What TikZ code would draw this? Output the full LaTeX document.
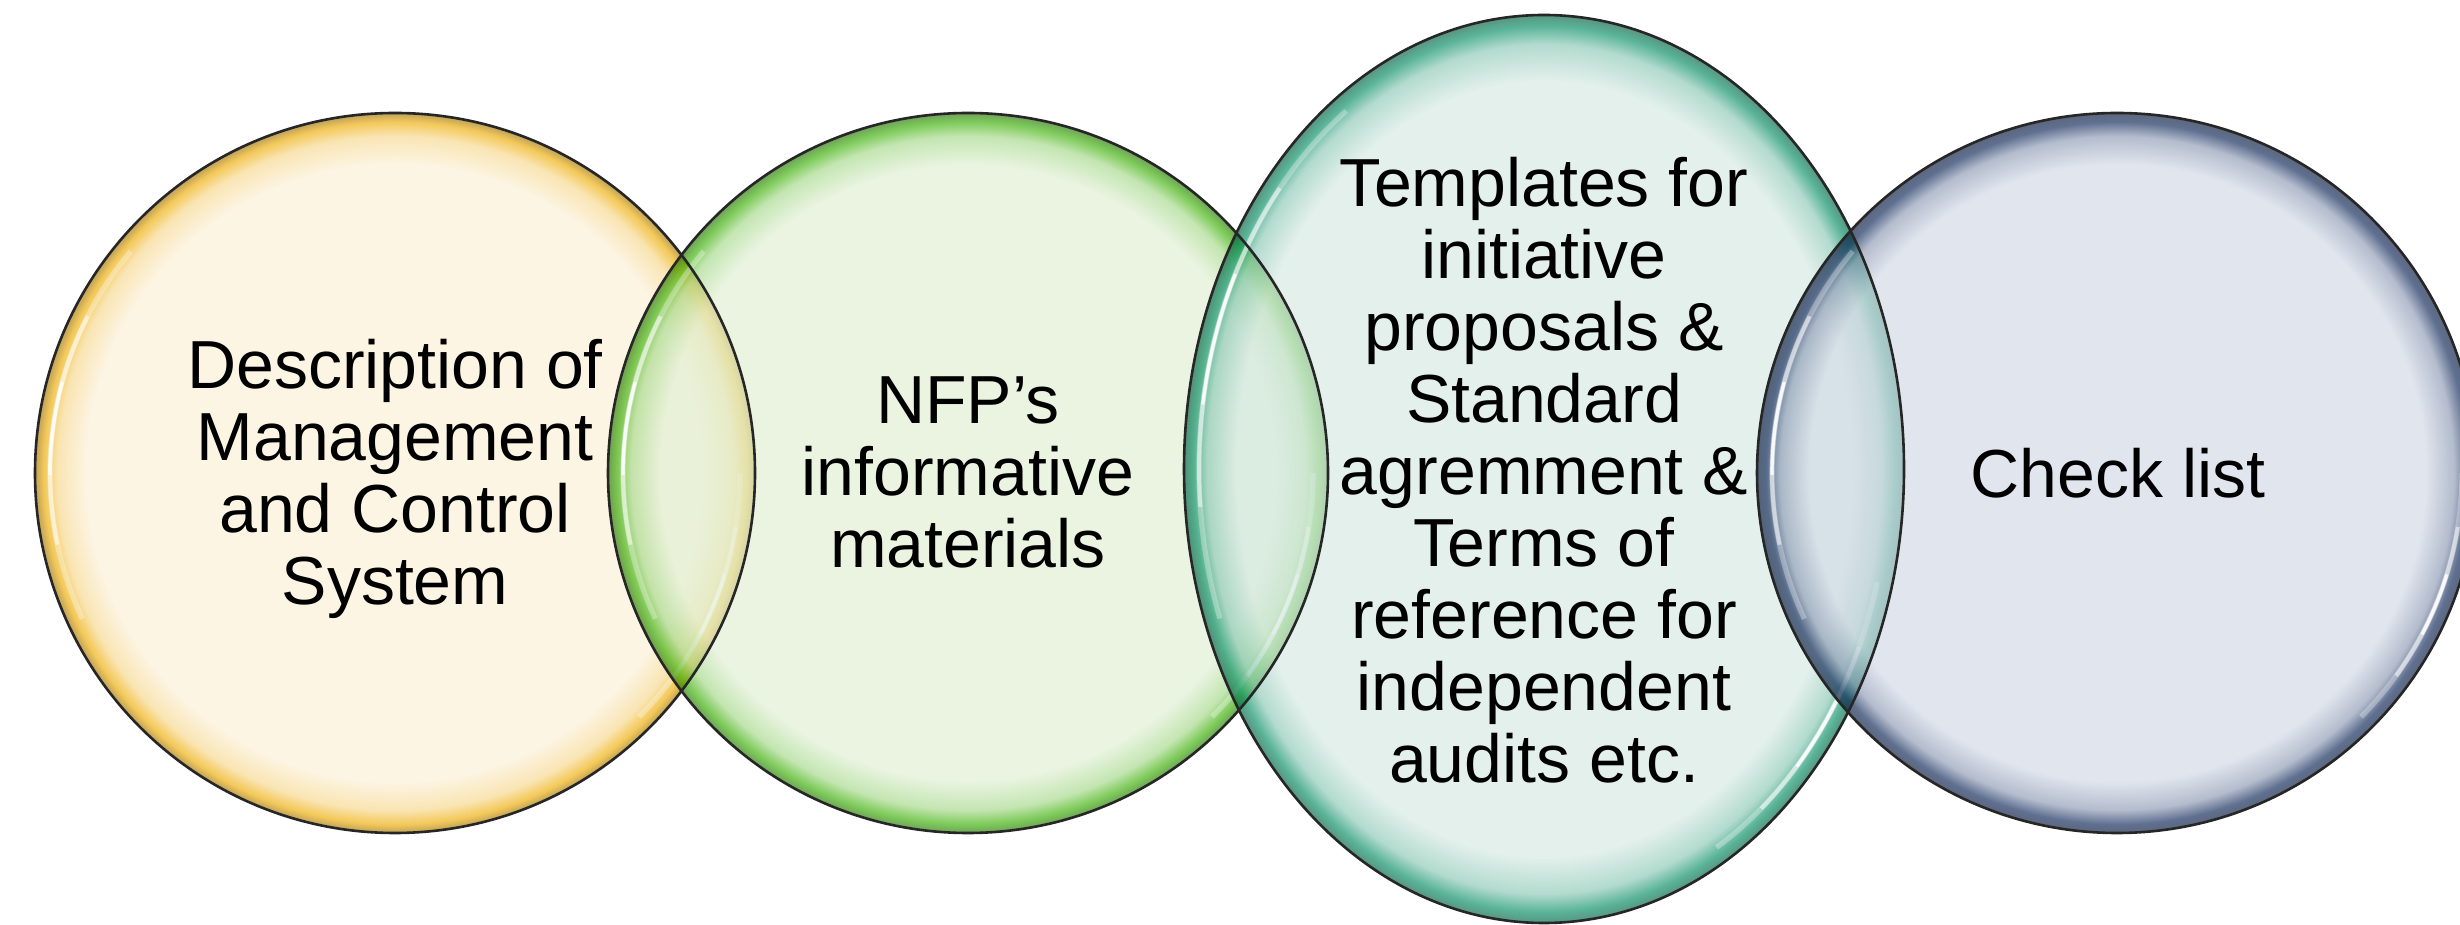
\documentclass[tikz,border=0pt]{standalone}
\usepackage{fontspec}
\setmainfont{Liberation Sans}
\definecolor{yfill}{RGB}{252,240,215}
\definecolor{yrim}{RGB}{238,172,0}
\definecolor{gfill}{RGB}{223,239,210}
\definecolor{grim}{RGB}{55,175,0}
\definecolor{tfill}{RGB}{212,232,226}
\definecolor{trim}{RGB}{0,140,95}
\definecolor{nfill}{RGB}{210,217,230}
\definecolor{nrim}{RGB}{10,35,85}
\newcommand\mkshade[3]{%
  \colorlet{#1mid}{#3!35!#2}\colorlet{#1edge}{#3!65!black}%
  \pgfdeclareradialshading{#1}{\pgfpointorigin}{color(0bp)=(#2); color(21.4bp)=(#2); color(23.4bp)=(#1mid); color(24.4bp)=(#3); color(25bp)=(#1edge); color(50bp)=(#1edge)}}
\mkshade{yshade}{yfill}{yrim}
\mkshade{gshade}{gfill}{grim}
\mkshade{tshade}{tfill}{trim}
\mkshade{nshade}{nfill}{nrim}
% highlight arc: cx, cy, rx, ry, a1, a2
\newcommand\hlarc[6]{%
  \pgfmathsetmacro\hla{#5+(#6-#5)*0.2}\pgfmathsetmacro\hlb{#6-(#6-#5)*0.2}%
  \pgfmathsetmacro\hlc{#5+(#6-#5)*0.38}\pgfmathsetmacro\hld{#6-(#6-#5)*0.38}%
  \draw[white, line width=2.6pt, opacity=0.3] (#1,#2) ++(#5:#3 and #4) arc[start angle=#5, end angle=#6, x radius=#3, y radius=#4];
  \draw[white, line width=2pt, opacity=0.5] (#1,#2) ++(\hla:#3 and #4) arc[start angle=\hla, end angle=\hlb, x radius=#3, y radius=#4];
  \draw[white, line width=1.6pt, opacity=0.85] (#1,#2) ++(\hlc:#3 and #4) arc[start angle=\hlc, end angle=\hld, x radius=#3, y radius=#4];
}
\tikzset{
  lbl/.style={align=center, inner sep=0pt, text=black, font=\fontsize{34}{36}\selectfont},
  bubble/.style={fill opacity=0.65},
  rimline/.style={draw=black!85, line width=1.3pt}
}
\begin{document}
\begin{tikzpicture}[x=0.5pt,y=0.5pt]
\useasboundingbox (0,0) rectangle (2460,925);
\clip (0,0) rectangle (2460,925);
\fill[white] (0,0) rectangle (2460,925);
% circle 1
\shade[bubble, shading=yshade] (395,452) circle[radius=360];
\hlarc{395}{452}{345}{345}{140}{205}
\hlarc{395}{452}{345}{345}{-45}{0}
% circle 2
\shade[bubble, shading=gshade] (968,452) circle[radius=360];
\hlarc{968}{452}{345}{345}{140}{205}
\hlarc{968}{452}{345}{345}{-45}{0}
% ellipse 3
\shade[bubble, shading=tshade] (1544,456) ellipse[x radius=360, y radius=454];
\hlarc{1544}{456}{345}{437}{125}{200}
\hlarc{1544}{456}{345}{437}{-60}{-15}
% circle 4
\shade[bubble, shading=nshade] (2117,452) circle[radius=360];
\hlarc{2117}{452}{345}{345}{140}{205}
\hlarc{2117}{452}{345}{345}{-45}{0}
% outlines
\draw[rimline] (395,452) circle[radius=360];
\draw[rimline] (968,452) circle[radius=360];
\draw[rimline] (1544,456) ellipse[x radius=360, y radius=454];
\draw[rimline] (2117,452) circle[radius=360];
% labels
\node[lbl] (t1) at (395,446) {Description of\\Management\\and Control\\System};
\node[lbl] (t2) at (968,453) {NFP’s\\informative\\materials};
\node[lbl] (t3) at (1544,455) {Templates for\\initiative\\proposals \&\\Standard\\agremment \&\\Terms of\\reference for\\independent\\audits etc.};
\node[lbl] (t4) at (2118,452) {Check list};
\end{tikzpicture}
\end{document}
